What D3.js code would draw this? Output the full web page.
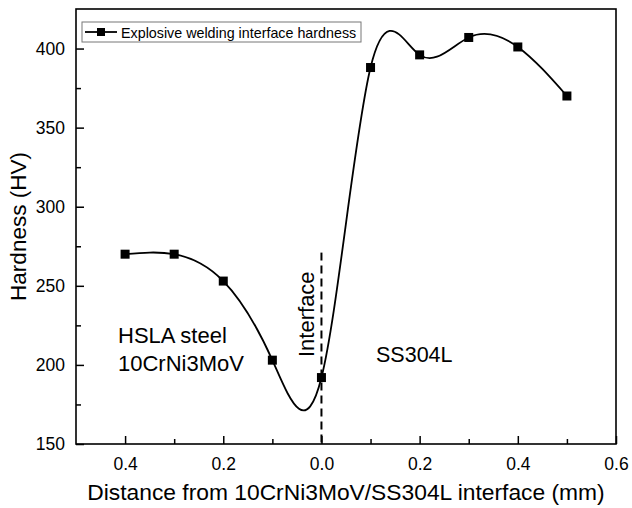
<!DOCTYPE html>
<html>
<head>
<meta charset="utf-8">
<script src="https://cdn.jsdelivr.net/npm/d3@7"></script>
<style>
  html, body { margin: 0; padding: 0; background: #fff; }
  svg { display: block; }
  text { font-family: "Liberation Sans", Arial, sans-serif; fill: #000; }
</style>
</head>
<body>
<svg id="chart" width="632" height="508"></svg>
<script>
// Data
const distances = [-0.4, -0.3, -0.2, -0.1, 0.0, 0.1, 0.2, 0.3, 0.4, 0.5];
const hardness  = [270, 270, 253, 203, 192, 388, 396, 407, 401, 370];
const seriesName = "Explosive welding interface hardness";
const xMajorTicks = [-0.4, -0.2, 0.0, 0.2, 0.4, 0.6];
const xMinorTicks = [-0.3, -0.1, 0.1, 0.3, 0.5];
const yMajorTicks = [150, 200, 250, 300, 350, 400];
const yMinorTicks = [175, 225, 275, 325, 375];
const interfaceX = 0.0;
const interfaceTop = 271;
const xTitle = "Distance from 10CrNi3MoV/SS304L interface (mm)";
const yTitle = "Hardness (HV)";

(function () {
const FONT = '"Liberation Sans", Arial, sans-serif';
const svg = d3.select("#chart");
const pL = 76, pR = 616, pT = 9, pB = 444;

const x = d3.scaleLinear().domain([-0.5, 0.6]).range([pL, pR]);
const y = d3.scaleLinear().domain([150, 425]).range([pB, pT]);

const pts = distances.map((d, i) => ({x: d, y: hardness[i]}));

// interface dashed line
svg.append("line")
  .attr("x1", x(interfaceX)).attr("x2", x(interfaceX))
  .attr("y1", y(interfaceTop)).attr("y2", y(150))
  .attr("stroke", "#000").attr("stroke-width", 2)
  .attr("stroke-dasharray", "8,5");

// spline curve
const line = d3.line().x(d => x(d.x)).y(d => y(d.y)).curve(d3.curveNatural);
svg.append("path").datum(pts)
  .attr("d", line)
  .attr("fill", "none").attr("stroke", "#000").attr("stroke-width", 1.8);

// markers
const ms = 9;
svg.selectAll("rect.pt").data(pts).enter().append("rect")
  .attr("class", "pt")
  .attr("x", d => x(d.x) - ms / 2).attr("y", d => y(d.y) - ms / 2)
  .attr("width", ms).attr("height", ms).attr("fill", "#000");

// axes (inward ticks)
const fmt = v => Math.abs(v).toFixed(1);
const xAxis = d3.axisBottom(x).tickValues(xMajorTicks).tickSizeInner(-8).tickSizeOuter(0).tickPadding(14).tickFormat(fmt);
const gx = svg.append("g").attr("transform", `translate(0,${pB})`).call(xAxis);
gx.attr("font-family", FONT);
gx.selectAll("text").attr("font-size", 17.5).attr("font-family", FONT);

const xMinor = d3.axisBottom(x).tickValues(xMinorTicks).tickSizeInner(-5).tickSizeOuter(0).tickFormat("");
svg.append("g").attr("transform", `translate(0,${pB})`).call(xMinor);

const yAxis = d3.axisLeft(y).tickValues(yMajorTicks).tickSizeInner(-8).tickSizeOuter(0).tickPadding(11);
const gy = svg.append("g").attr("transform", `translate(${pL},0)`).call(yAxis);
gy.attr("font-family", FONT);
gy.selectAll("text").attr("font-size", 17.5).attr("font-family", FONT);

const yMinor = d3.axisLeft(y).tickValues(yMinorTicks).tickSizeInner(-5).tickSizeOuter(0).tickFormat("");
svg.append("g").attr("transform", `translate(${pL},0)`).call(yMinor);

svg.selectAll(".tick line").attr("stroke", "#000").attr("stroke-width", 1.5);
svg.selectAll(".domain").remove();

// frame
svg.append("rect")
  .attr("x", pL).attr("y", pT).attr("width", pR - pL).attr("height", pB - pT)
  .attr("fill", "none").attr("stroke", "#000").attr("stroke-width", 1.6);

// axis titles
svg.append("text").attr("x", (pL + pR) / 2).attr("y", 500)
  .attr("text-anchor", "middle").attr("font-size", 22.8).attr("font-family", FONT).text(xTitle);
svg.append("text").attr("transform", `translate(26,${(pT + pB) / 2}) rotate(-90)`)
  .attr("text-anchor", "middle").attr("font-size", 22.5).attr("font-family", FONT).text(yTitle);

// annotations
svg.append("text").attr("x", 118).attr("y", 343).attr("font-size", 22).attr("font-family", FONT).text("HSLA steel");
svg.append("text").attr("x", 118).attr("y", 371).attr("font-size", 22).attr("font-family", FONT).text("10CrNi3MoV");
svg.append("text").attr("x", 376).attr("y", 362).attr("font-size", 21.5).attr("font-family", FONT).text("SS304L");
svg.append("text").attr("transform", `translate(314,357) rotate(-90)`)
  .attr("font-size", 22).attr("font-family", FONT).text("Interface");

// legend
const lg = svg.append("g");
lg.append("rect").attr("x", 82).attr("y", 22).attr("width", 279).attr("height", 20)
  .attr("fill", "#fff").attr("stroke", "#777").attr("stroke-width", 1);
lg.append("line").attr("x1", 85).attr("x2", 117).attr("y1", 32).attr("y2", 32)
  .attr("stroke", "#000").attr("stroke-width", 1.8);
lg.append("rect").attr("x", 101 - 4).attr("y", 32 - 4).attr("width", 8).attr("height", 8).attr("fill", "#000");
lg.append("text").attr("x", 121).attr("y", 37.5).attr("font-size", 14.3).attr("font-family", FONT).text(seriesName);
})();
</script>
</body>
</html>
